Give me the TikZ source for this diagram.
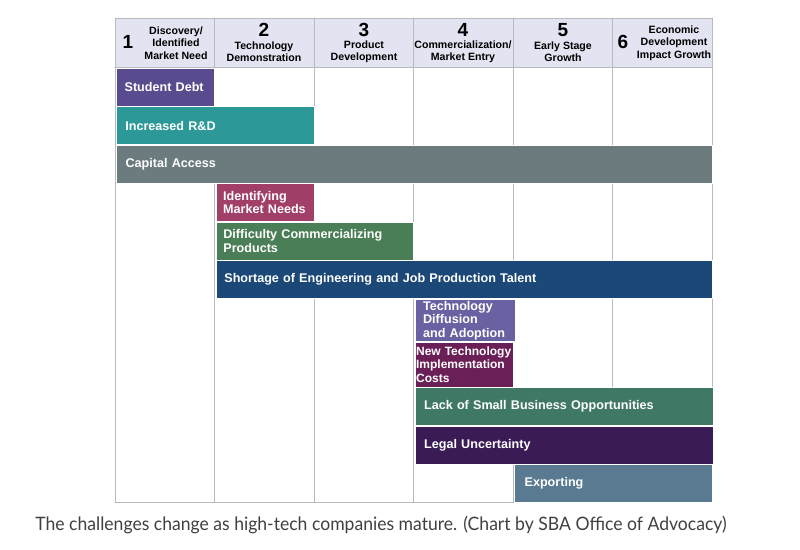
\documentclass[tikz,border=0pt]{standalone}
\usepackage{fontspec}
\setmainfont{Liberation Sans}
\newfontfamily\captionfont[FakeStretch=0.95]{Lato}
\definecolor{gridc}{HTML}{B9B9BE}
\definecolor{headc}{HTML}{E3E4F2}
\definecolor{debtc}{HTML}{5A4A8E}
\definecolor{rndc}{HTML}{2C9898}
\definecolor{capc}{HTML}{6C7B7D}
\definecolor{identc}{HTML}{A13F68}
\definecolor{diffc}{HTML}{4A7E56}
\definecolor{shortc}{HTML}{1B4877}
\definecolor{techc}{HTML}{6862A2}
\definecolor{newtc}{HTML}{6A1F56}
\definecolor{lackc}{HTML}{3F7965}
\definecolor{legalc}{HTML}{3A1B56}
\definecolor{exportc}{HTML}{597A91}
\begin{document}
\begin{tikzpicture}[x=1pt, y=-1pt, line join=round, line cap=round,
	cell/.style={anchor=north west, draw=white, line width=1.2pt, text=white, inner xsep=8pt, inner ysep=0pt, align=left, font=\bfseries\fontsize{12.6}{13.5}\selectfont},
	head/.style={align=center, inner sep=0pt, font=\bfseries\fontsize{10.6}{12.3}\selectfont},
	num/.style={inner sep=0pt, font=\bfseries\fontsize{19}{19}\selectfont}]
	\def \xmin{115}
	\def \xmax{712}
	\def \ytop{18}
	\def \yhead{67}
	\def \ybot{502}
	\useasboundingbox (0,0) rectangle (800,549);
	% header and grid
	\fill[headc] (\xmin,\ytop) rectangle (\xmax,\yhead);
	\foreach \x in {115,214.5,314,413.5,513,612.5,712}
		\draw[gridc, line width=1pt] (\x,\ytop)--(\x,\ybot);
	\draw[gridc, line width=1pt] (\xmin,\ytop)--(\xmax,\ytop) (\xmin,\yhead)--(\xmax,\yhead) (\xmin,\ybot)--(\xmax,\ybot);
	\node[num] (n1) at (128,42) {1};
	\node[head] (h1) at (176,43) {Discovery/\\Identified\\Market Need};
	\node[num] (n2) at (264,30) {2};
	\node[head] (h2) at (264,52) {Technology\\Demonstration};
	\node[num] (n3) at (364,30) {3};
	\node[head] (h3) at (364,52) {Product\\Development};
	\node[num] (n4) at (463,30) {4};
	\node[head] (h4) at (463,52) {Commercialization/\\Market Entry};
	\node[num] (n5) at (563,30) {5};
	\node[head] (h5) at (563,52) {Early Stage\\Growth};
	\node[num] (n6) at (623,42) {6};
	\node[head] (h6) at (674,43) {Economic\\Development\\Impact Growth};
	% challenges
	\node[cell, fill=debtc, minimum width=98pt, minimum height=37.5pt, text width=82pt] (debt) at (116,68) {Student Debt};
	\node[cell, fill=rndc, minimum width=197.5pt, minimum height=38pt, text width=180pt] (rnd) at (116,106) {Increased R\&D};
	\node[cell, fill=capc, minimum width=596pt, minimum height=38pt, text width=578pt] (capital) at (116,144.5) {Capital Access};
	\node[cell, fill=identc, minimum width=98pt, minimum height=38pt, text width=84pt, inner xsep=7pt] (ident) at (215.5,183) {Identifying\\Market Needs};
	\node[cell, fill=diffc, minimum width=197.5pt, minimum height=38pt, text width=183pt, inner xsep=7pt] (diff) at (215.5,221.5) {Difficulty Commercializing\\Products};
	\node[cell, fill=shortc, minimum width=496.5pt, minimum height=38pt, text width=480pt] (short) at (215.5,260) {Shortage of Engineering and Job Production Talent};
	\node[cell, fill=techc, minimum width=98pt, minimum height=42.5pt, text width=84pt, inner xsep=8pt] (tech) at (414.5,298.5) {Technology\\Diffusion\\and Adoption};
	\node[cell, fill=newtc, minimum width=98pt, minimum height=45pt, text width=96pt, inner xsep=1pt, font=\bfseries\fontsize{12}{13.5}\selectfont] (newt) at (414.5,341.5) {New Technology\\Implementation\\Costs};
	\node[cell, fill=lackc, minimum width=297.5pt, minimum height=38pt, text width=280pt, inner xsep=9pt] (lack) at (414.5,387) {Lack of Small Business Opportunities};
	\node[cell, fill=legalc, minimum width=297.5pt, minimum height=38pt, text width=280pt, inner xsep=9pt] (legal) at (414.5,425.5) {Legal Uncertainty};
	\node[cell, fill=exportc, minimum width=198pt, minimum height=38pt, text width=178pt, inner xsep=10pt] (export) at (514,464) {Exporting};
	% caption
	\node[text=black!75, font=\captionfont\fontsize{18.5}{18.5}\selectfont] (cap) at (381,525) {The challenges change as high-tech companies mature. (Chart by SBA Office of Advocacy)};
\end{tikzpicture}
\end{document}
